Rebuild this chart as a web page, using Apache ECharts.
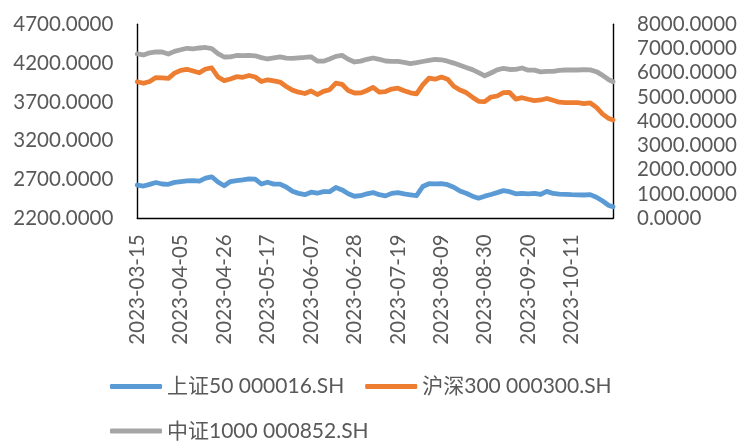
<!DOCTYPE html>
<html>
<head>
<meta charset="utf-8">
<script src="https://cdn.jsdelivr.net/npm/echarts@6/dist/echarts.min.js"></script>
<style>
html,body{margin:0;padding:0;background:#fff;}
#c{width:744px;height:441px;}
</style>
</head>
<body>
<div id="c"></div>
<script>
const dates = [
'2023-03-15','2023-03-18','2023-03-21','2023-03-24','2023-03-27','2023-03-30','2023-04-02','2023-04-05',
'2023-04-08','2023-04-11','2023-04-14','2023-04-17','2023-04-20','2023-04-23','2023-04-26','2023-04-29',
'2023-05-02','2023-05-05','2023-05-08','2023-05-11','2023-05-14','2023-05-17','2023-05-20','2023-05-23',
'2023-05-26','2023-05-29','2023-06-01','2023-06-04','2023-06-07','2023-06-10','2023-06-13','2023-06-16',
'2023-06-19','2023-06-22','2023-06-25','2023-06-28','2023-07-01','2023-07-04','2023-07-07','2023-07-10',
'2023-07-13','2023-07-16','2023-07-19','2023-07-22','2023-07-25','2023-07-28','2023-07-31','2023-08-03',
'2023-08-06','2023-08-09','2023-08-12','2023-08-15','2023-08-18','2023-08-21','2023-08-24','2023-08-27',
'2023-08-30','2023-09-02','2023-09-05','2023-09-08','2023-09-11','2023-09-14','2023-09-17','2023-09-20',
'2023-09-23','2023-09-26','2023-09-29','2023-10-02','2023-10-05','2023-10-08','2023-10-11','2023-10-14',
'2023-10-17','2023-10-20','2023-10-23','2023-10-26','2023-10-29','2023-10-31'
];
const sz50 = [
2629,2616,2638,2661,2642,2638,2663,2673,2682,2685,2678,2717,2735,2668,2620,2673,
2685,2694,2709,2706,2642,2665,2641,2640,2603,2548,2521,2504,2536,2523,2543,2543,
2598,2566,2516,2484,2491,2516,2532,2504,2489,2521,2531,2514,2503,2491,2609,2645,
2643,2647,2633,2601,2551,2523,2485,2459,2485,2507,2531,2557,2543,2516,2521,2516,
2521,2507,2547,2520,2512,2508,2504,2502,2500,2505,2471,2422,2366,2349
];
const hs300 = [
3960,3940,3963,4014,4009,4003,4070,4107,4120,4098,4075,4124,4137,4021,3975,3995,
4025,4017,4040,4021,3963,3985,3971,3956,3899,3852,3825,3808,3841,3795,3835,3857,
3941,3927,3846,3815,3816,3847,3888,3825,3833,3865,3877,3844,3817,3803,3920,4005,
3993,4020,3993,3902,3853,3820,3761,3707,3704,3763,3776,3819,3821,3737,3754,3734,
3717,3725,3744,3721,3696,3690,3690,3690,3677,3686,3629,3543,3485,3467
];
const zz1000 = [
6776,6735,6825,6866,6858,6776,6883,6949,7011,6990,7023,7044,6994,6792,6652,6660,
6714,6710,6722,6702,6627,6570,6619,6660,6607,6598,6619,6635,6660,6487,6479,6570,
6677,6718,6561,6446,6483,6557,6611,6557,6487,6471,6475,6433,6380,6417,6466,6512,
6549,6537,6479,6400,6310,6215,6132,6009,5877,5992,6124,6186,6137,6145,6198,6108,
6112,6037,6058,6058,6104,6116,6116,6116,6132,6120,6046,5893,5712,5633
];
const xTickLabels = ['2023-03-15','2023-04-05','2023-04-26','2023-05-17','2023-06-07','2023-06-28','2023-07-19','2023-08-09','2023-08-30','2023-09-20','2023-10-11'];
const leftTicks = [2200,2700,3200,3700,4200,4700];
const rightTicks = [0,1000,2000,3000,4000,5000,6000,7000,8000];
const seriesNames = ['上证50 000016.SH','沪深300 000300.SH','中证1000 000852.SH'];

const DAY = 86400000;
const base = Date.parse(dates[0]);
const toDay = s => Math.round((Date.parse(s) - base) / DAY);
const dayToLabel = v => new Date(base + v * DAY).toISOString().slice(0, 10);
const xMax = toDay(dates[dates.length - 1]);
const pairs = arr => dates.map((d, i) => [toDay(d), arr[i]]);

const FONT = 'Lato, "Noto Sans CJK SC", sans-serif';
const TXT = '#595959';
const axisLineStyle = {show: true, lineStyle: {color: '#000', width: 1.4}};

const chart = echarts.init(document.getElementById('c'));
chart.setOption({
  animation: false,
  backgroundColor: '#fff',
  textStyle: {fontFamily: FONT},
  grid: {left: 137.3, right: 131, top: 24.3, bottom: 222.7, containLabel: false},
  xAxis: {
    type: 'value', min: 0, max: xMax,
    axisLine: axisLineStyle, axisTick: {show: false}, splitLine: {show: false},
    axisLabel: {
      customValues: xTickLabels.map(toDay),
      rotate: 90, margin: 16, fontSize: 20.5, color: TXT, fontFamily: FONT,
      formatter: v => dayToLabel(v)
    }
  },
  yAxis: [
    {
      type: 'value', min: leftTicks[0], max: leftTicks[leftTicks.length - 1], position: 'left',
      axisLine: axisLineStyle, axisTick: {show: false}, splitLine: {show: false},
      axisLabel: {customValues: leftTicks, margin: 24, fontSize: 20.5, color: TXT, fontFamily: FONT,
        formatter: v => Number(v).toFixed(4)}
    },
    {
      type: 'value', min: rightTicks[0], max: rightTicks[rightTicks.length - 1], position: 'right',
      axisLine: axisLineStyle, axisTick: {show: false}, splitLine: {show: false},
      axisLabel: {customValues: rightTicks, margin: 24, fontSize: 20.5, color: TXT, fontFamily: FONT,
        formatter: v => Number(v).toFixed(4)}
    }
  ],
  legend: [
    {
      data: [seriesNames[0], seriesNames[1]], left: 110, top: 376, padding: 0,
      icon: 'roundRect', itemWidth: 52, itemHeight: 5, itemGap: 21,
      textStyle: {fontSize: 21, color: TXT, fontFamily: FONT}
    },
    {
      data: [seriesNames[2]], left: 110, top: 420.5, padding: 0,
      icon: 'roundRect', itemWidth: 52, itemHeight: 5, itemGap: 21,
      textStyle: {fontSize: 21, color: TXT, fontFamily: FONT}
    }
  ],
  series: [
    {name: seriesNames[0], type: 'line', yAxisIndex: 0, data: pairs(sz50), symbol: 'none',
     color: '#5B9BD5', lineStyle: {width: 4.8, color: '#5B9BD5', cap: 'round', join: 'round'}},
    {name: seriesNames[1], type: 'line', yAxisIndex: 0, data: pairs(hs300), symbol: 'none',
     color: '#ED7D31', lineStyle: {width: 4.8, color: '#ED7D31', cap: 'round', join: 'round'}},
    {name: seriesNames[2], type: 'line', yAxisIndex: 1, data: pairs(zz1000), symbol: 'none',
     color: '#A5A5A5', lineStyle: {width: 4.8, color: '#A5A5A5', cap: 'round', join: 'round'}}
  ]
});
</script>
</body>
</html>
